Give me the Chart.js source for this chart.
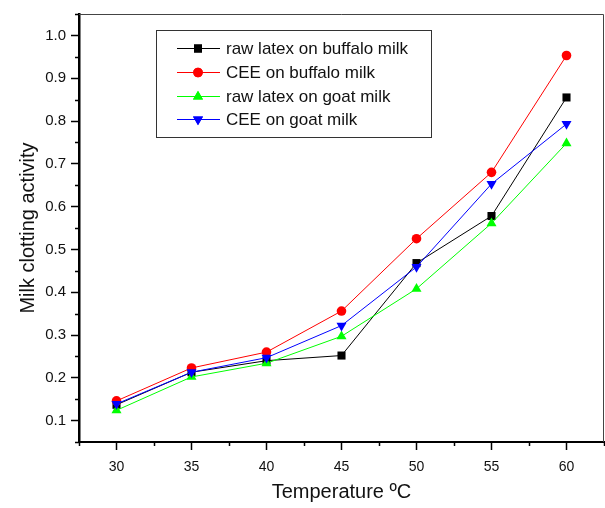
<!DOCTYPE html>
<html>
<head>
<meta charset="utf-8">
<script src="https://cdn.jsdelivr.net/npm/chart.js@4.4.1/dist/chart.umd.min.js"></script>
<style>
  html, body { margin: 0; padding: 0; background: #fff; }
  #wrap { width: 605px; height: 508px; }
</style>
</head>
<body>
<div id="wrap"><canvas id="milkChart" width="605" height="508"></canvas></div>
<script>
const temps = [30, 35, 40, 45, 50, 55, 60];
const rawBuffalo = [0.137, 0.213, 0.240, 0.252, 0.468, 0.578, 0.855];
const ceeBuffalo = [0.146, 0.223, 0.260, 0.356, 0.525, 0.680, 0.953];
const rawGoat = [0.124, 0.202, 0.234, 0.297, 0.408, 0.561, 0.748];
const ceeGoat = [0.139, 0.213, 0.247, 0.322, 0.459, 0.653, 0.793];

const seriesNames = ["raw latex on buffalo milk", "CEE on buffalo milk", "raw latex on goat milk", "CEE on goat milk"];
const xTicks = [30, 35, 40, 45, 50, 55, 60];
const yTicks = [0.1, 0.2, 0.3, 0.4, 0.5, 0.6, 0.7, 0.8, 0.9, 1.0];

function pts(vals) {
  return temps.map((t, i) => ({ x: t, y: vals[i] }));
}

const FONT = "Arial, 'Liberation Sans', sans-serif";

function makeSet(label, vals, color, style, radius, rot, order) {
  return {
    label: label,
    data: pts(vals),
    borderColor: color,
    backgroundColor: color,
    borderWidth: 1,
    pointStyle: style,
    pointRadius: radius,
    pointRotation: rot,
    pointBorderWidth: 0,
    pointBackgroundColor: color,
    tension: 0,
    order: order,
  };
}

const datasets = [
  makeSet(seriesNames[0], rawBuffalo, "#000000", "rect", 5.7, 0, 4),
  makeSet(seriesNames[1], ceeBuffalo, "#ff0000", "circle", 4.8, 0, 3),
  makeSet(seriesNames[2], rawGoat, "#00ff00", "triangle", 5.8, 0, 2),
  makeSet(seriesNames[3], ceeGoat, "#0000ff", "triangle", 5.8, 180, 1),
];

// minor ticks, top/right frame and the boxed legend inside the plot
const framePlugin = {
  id: "frame",
  afterDraw(chart) {
    const ctx = chart.ctx;
    const a = chart.chartArea;
    const xs = chart.scales.x;
    const ys = chart.scales.y;
    ctx.save();
    ctx.strokeStyle = "#444";
    ctx.lineWidth = 1;
    ctx.beginPath();
    ctx.moveTo(a.left, a.top + 0.5);
    ctx.lineTo(a.right - 0.5, a.top + 0.5);
    ctx.lineTo(a.right - 0.5, a.bottom);
    ctx.stroke();

    ctx.strokeStyle = "#000";
    ctx.lineWidth = 1.5;
    ctx.beginPath();
    for (let v = 27.5; v <= 62.5; v += 5) {
      const px = Math.round(xs.getPixelForValue(v)) + 0.5;
      ctx.moveTo(px, a.bottom);
      ctx.lineTo(px, a.bottom + 4);
    }
    for (let v = 0.05; v <= 1.06; v += 0.1) {
      const py = Math.round(ys.getPixelForValue(v)) + 0.5;
      ctx.moveTo(a.left, py);
      ctx.lineTo(a.left - 4, py);
    }
    ctx.stroke();

    // legend
    const bx = 156, by = 30, bw = 275, bh = 107;
    ctx.strokeStyle = "#333";
    ctx.lineWidth = 1;
    ctx.strokeRect(bx + 0.5, by + 0.5, bw, bh);
    const rows = [48, 72, 96, 119];
    ctx.font = "17px " + FONT;
    ctx.textBaseline = "middle";
    datasets.forEach((ds, i) => {
      const y = rows[i];
      ctx.strokeStyle = ds.borderColor;
      ctx.beginPath();
      ctx.moveTo(177, y + 0.5);
      ctx.lineTo(220, y + 0.5);
      ctx.stroke();
      ctx.fillStyle = ds.borderColor;
      Chart.helpers.drawPoint(ctx, {
        pointStyle: ds.pointStyle,
        radius: ds.pointRadius,
        rotation: ds.pointRotation,
        borderWidth: 0,
      }, 198, y + 0.5);
      ctx.fill();
      ctx.fillStyle = "#111";
      ctx.fillText(ds.label, 226, y + 1);
    });
    ctx.restore();
  },
};

new Chart(document.getElementById("milkChart"), {
  type: "line",
  data: { datasets: datasets },
  options: {
    responsive: false,
    animation: false,
    layout: { autoPadding: false, padding: { top: 11, right: 1, left: 0, bottom: 0 } },
    plugins: { legend: { display: false }, tooltip: { enabled: false } },
    scales: {
      x: {
        type: "linear",
        min: 27.5,
        max: 62.5,
        afterBuildTicks: (s) => { s.ticks = xTicks.map((v) => ({ value: v })); },
        afterFit: (s) => { s.height = 66; s.paddingRight = 0; s.paddingLeft = 0; },
        border: { color: "#000", width: 2 },
        grid: { drawOnChartArea: false, tickLength: 8, tickColor: "#000", tickWidth: 1.5 },
        ticks: { color: "#111", font: { family: FONT, size: 14 }, padding: 9, maxRotation: 0 },
        title: { display: true, text: "Temperature ºC", color: "#111", font: { family: FONT, size: 20 }, padding: { top: 7 } },
      },
      y: {
        min: 0.05,
        max: 1.05,
        afterBuildTicks: (s) => { s.ticks = yTicks.map((v) => ({ value: v })); },
        afterFit: (s) => { s.width = 79; },
        border: { color: "#000", width: 2.5 },
        grid: { drawOnChartArea: false, tickLength: 8, tickColor: "#000", tickWidth: 1.5 },
        ticks: { color: "#111", font: { family: FONT, size: 15 }, padding: 5, callback: (v) => v.toFixed(1) },
        title: { display: true, text: "Milk clotting activity", color: "#111", font: { family: FONT, size: 20 }, padding: { top: 16, bottom: 0 } },
      },
    },
  },
  plugins: [framePlugin],
});
</script>
</body>
</html>
